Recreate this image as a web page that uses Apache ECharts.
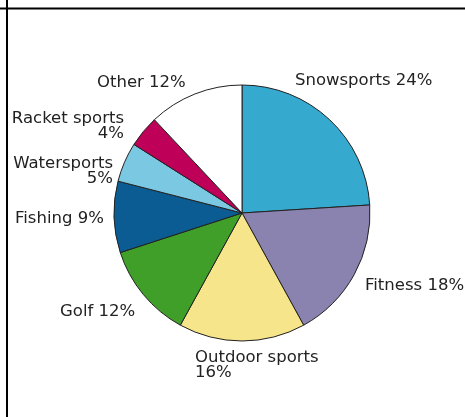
<!DOCTYPE html>
<html>
<head>
<meta charset="utf-8">
<style>
  html, body { margin: 0; padding: 0; background: #fff; }
  #chart { width: 465px; height: 417px; }
</style>
<script src="https://cdn.jsdelivr.net/npm/echarts@6/dist/echarts.min.js"></script>
</head>
<body>
<div id="chart"></div>
<script>
// Share of participation by sport type (%)
const categories = ['Snowsports', 'Fitness', 'Outdoor sports', 'Golf', 'Fishing', 'Watersports', 'Racket sports', 'Other'];
const shares = [24, 18, 16, 12, 9, 5, 4, 12];
// Labels whose percentage sits on a second line
const wrapped = [false, false, true, false, false, true, true, false];

const sliceColors = ['#36a9ce', '#8a83b0', '#f7e58c', '#3f9f28', '#0a5c92', '#7bc8e2', '#be0059', '#ffffff'];

// Where each label is anchored: [x, y, align]
const labelAnchors = [
  [295, 81, 'left'],
  [365, 286, 'left'],
  [195, 365, 'left'],
  [60, 312, 'left'],
  [15, 219, 'left'],
  [113, 171, 'right'],
  [124, 126, 'right'],
  [97, 83, 'left']
];

const chart = echarts.init(document.getElementById('chart'), null, { renderer: 'canvas' });

chart.setOption({
  backgroundColor: '#ffffff',
  animation: false,
  graphic: [
    { type: 'line', shape: { x1: 0, y1: 8.5, x2: 465, y2: 8.5 }, style: { stroke: '#000', lineWidth: 2 } },
    { type: 'line', shape: { x1: 7, y1: 0, x2: 7, y2: 417 }, style: { stroke: '#000', lineWidth: 2 } }
  ],
  series: [{
    type: 'pie',
    center: [242, 213],
    radius: 128,
    startAngle: 90,
    clockwise: true,
    silent: true,
    data: categories.map((name, i) => ({
      name,
      value: shares[i],
      itemStyle: { color: sliceColors[i] }
    })),
    itemStyle: { borderColor: '#222', borderWidth: 1 },
    label: {
      show: true,
      position: 'outside',
      alignTo: 'none',
      overflow: 'none',
      fontFamily: 'DejaVu Sans',
      fontSize: 16.5,
      lineHeight: 15,
      color: '#222',
      formatter: p => p.name + (wrapped[p.dataIndex] ? '\n' : ' ') + p.value + '%'
    },
    labelLine: { show: false },
    labelLayout: p => {
      const a = labelAnchors[p.dataIndex];
      return { x: a[0], y: a[1], align: a[2], verticalAlign: 'middle' };
    }
  }]
});
</script>
</body>
</html>
